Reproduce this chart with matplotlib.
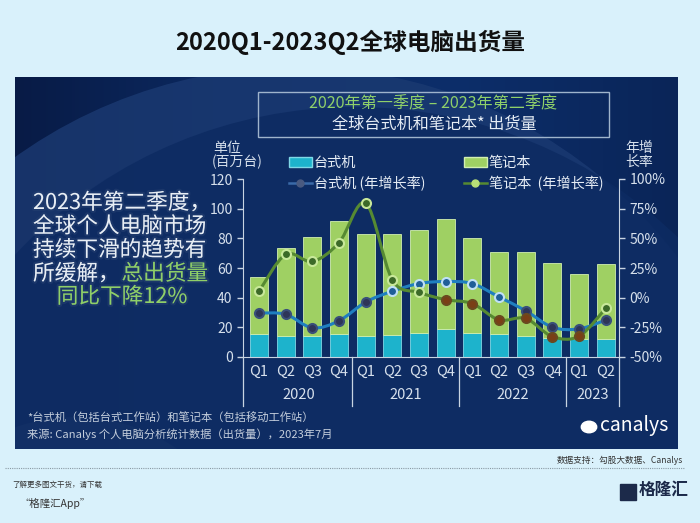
import numpy as np
import matplotlib
matplotlib.use('Agg')
import matplotlib.pyplot as plt
from matplotlib.patches import Patch, Circle, Rectangle, PathPatch
from matplotlib.lines import Line2D
from matplotlib.path import Path
from matplotlib.colors import LinearSegmentedColormap
import matplotlib.patheffects as pe

plt.rcParams['font.family'] = ['Noto Sans CJK SC', 'DejaVu Sans']

# data (millions of units / yoy growth %)
quarters = ['Q1', 'Q2', 'Q3', 'Q4'] * 3 + ['Q1', 'Q2']
years = ['2020', '2021', '2022', '2023']
total = [53.8, 73.5, 80.9, 91.7, 82.7, 83.1, 85.4, 92.9, 80.4, 70.7, 70.7, 63.5, 55.7, 62.8]
desktop = [15.3, 14.2, 14.2, 15.8, 14.2, 14.9, 16.5, 18.8, 16.5, 15.3, 14.2, 13.1, 11.9, 12.4]
notebook = [t - d for t, d in zip(total, desktop)]
desktop_yoy = [-13.0, -14.0, -25.4, -19.5, -3.7, 5.4, 11.9, 13.6, 11.9, 0.6, -11.0, -24.9, -26.3, -18.9]
notebook_yoy = [5.4, 36.4, 30.5, 46.3, 79.6, 15.0, 4.5, -1.7, -5.0, -18.7, -17.5, -32.8, -32.5, -9.0]

BG = '#d9f1fb'
fig = plt.figure(figsize=(7.0, 5.23), dpi=100, facecolor=BG)

def fx(x):
    return x / 700

def fy(y):
    return 1 - y / 523

# dark panel
px0, py0, px1, py1 = 15, 77, 678, 449
bg = fig.add_axes([fx(px0), fy(py1), fx(px1 - px0), fy(py0) - fy(py1)], zorder=0)
grad = np.linspace(0, 1, 256)[None, :]
cm = LinearSegmentedColormap.from_list('p', ['#081b46', '#0c2a62', '#0d2e6a', '#0a2558'])
bg.imshow(grad, cmap=cm, aspect='auto', extent=(0, px1 - px0, py1 - py0, 0))
bg.add_patch(Circle((280, 470), 480, color='#1b3a72', alpha=0.8, lw=0))
bg.add_patch(Circle((340, 495), 465, color='#0d2b62', alpha=0.9, lw=0))
bg.add_patch(Circle((60, 520), 180, color='#163468', alpha=0.5, lw=0))
bg.set_xlim(0, px1 - px0)
bg.set_ylim(py1 - py0, 0)
bg.axis('off')

# title
fig.text(0.5, fy(42), '2020Q1-2023Q2全球电脑出货量', ha='center', va='center',
         fontsize=17, fontweight='bold', color='#111111')

# subtitle box
fig.add_artist(Rectangle((fx(258), fy(137)), fx(609 - 258), fy(92) - fy(137),
                         fill=False, ec='#9fb4cc', lw=1.0, transform=fig.transFigure, zorder=3))
fig.text(fx(433), fy(104), '2020年第一季度 – 2023年第二季度', ha='center', va='center',
         fontsize=11.6, color='#8fd06a', zorder=4)
fig.text(fx(434), fy(124), '全球台式机和笔记本* 出货量', ha='center', va='center',
         fontsize=11.6, color='#e6edf5', zorder=4)

# left commentary
glow = [pe.withStroke(linewidth=3, foreground='#243f70', alpha=0.6)]
lines = ['2023年第二季度，', '全球个人电脑市场', '持续下滑的趋势有']
for i, s in enumerate(lines):
    fig.text(fx(33), fy(203 + 23.6 * i), s, ha='left', va='center', fontsize=15.6,
             color='#e8eef5', path_effects=glow, zorder=4)
fig.text(fx(33), fy(274), '所缓解，', ha='left', va='center', fontsize=15.6,
         color='#e8eef5', path_effects=glow, zorder=4)
fig.text(fx(208), fy(274), '总出货量', ha='right', va='center', fontsize=15.6,
         color='#8fcf68', path_effects=glow, zorder=4)
fig.text(fx(122), fy(297), '同比下降12%', ha='center', va='center', fontsize=15.6,
         color='#8fcf68', path_effects=glow, zorder=4)

# main chart
ax = fig.add_axes([fx(243), fy(357), fx(619 - 243), fy(179) - fy(357)], zorder=2)
ax.patch.set_alpha(0)
x = np.arange(len(total))
w = 0.68
ax.bar(x, desktop, w, color='#1db3cc', edgecolor='#7fd8e6', lw=0.6, zorder=2)
ax.bar(x, notebook, w, bottom=desktop, color='#9fd063', edgecolor='#d2efb0', lw=0.6, zorder=2)
ax.set_xlim(-0.6, 13.5)
ax.set_ylim(0, 120)
ax.set_yticks(range(0, 121, 20))
tc = '#d6e0ec'
ax.tick_params(axis='y', colors='#c8d4e2', labelcolor=tc, labelsize=10, length=4, width=1)
ax.set_xticks([])
for s in ['top', 'right']:
    ax.spines[s].set_visible(False)
ax.spines['left'].set_color('#c8d4e2')
ax.spines['bottom'].set_color('#c8d4e2')

# category labels and year separators
for i, q in enumerate(quarters):
    ax.text(i, -10, q, ha='center', va='center', fontsize=10.5, color=tc, clip_on=False)
year_mid = [1.5, 5.5, 9.5, 12.5]
for xm, yr in zip(year_mid, years):
    ax.text(xm, -25.5, yr, ha='center', va='center', fontsize=10.5, color=tc, clip_on=False)
for xs in [-0.6, 3.5, 7.5, 11.5, 13.5]:
    ax.plot([xs, xs], [0, -33], color='#c8d4e2', lw=0.9, clip_on=False, zorder=1)

# growth lines on right axis
ax2 = ax.twinx()
ax2.set_ylim(-50, 100)
ax2.set_yticks(range(-50, 101, 25))
ax2.set_yticklabels([f'{v}%' for v in range(-50, 101, 25)])
ax2.tick_params(axis='y', colors='#c8d4e2', labelcolor=tc, labelsize=10, length=4, width=1)
for s in ['top', 'left', 'bottom']:
    ax2.spines[s].set_visible(False)
ax2.spines['right'].set_color('#c8d4e2')


def smooth(xs, ys):
    n = len(xs)
    verts = [(xs[0], ys[0])]
    codes = [Path.MOVETO]
    for i in range(n - 1):
        p0 = (xs[max(i - 1, 0)], ys[max(i - 1, 0)])
        p1 = (xs[i], ys[i])
        p2 = (xs[i + 1], ys[i + 1])
        p3 = (xs[min(i + 2, n - 1)], ys[min(i + 2, n - 1)])
        c1 = (p1[0] + (p2[0] - p0[0]) / 6, p1[1] + (p2[1] - p0[1]) / 6)
        c2 = (p2[0] - (p3[0] - p1[0]) / 6, p2[1] - (p3[1] - p1[1]) / 6)
        verts += [c1, c2, p2]
        codes += [Path.CURVE4] * 3
    return Path(verts, codes)


d_line = '#1f7fc0'
n_line = '#568a32'
ax2.add_patch(PathPatch(smooth(x, desktop_yoy), fill=False, ec=d_line, lw=2.2, zorder=3))
ax2.add_patch(PathPatch(smooth(x, notebook_yoy), fill=False, ec=n_line, lw=2.2, zorder=3))
for i in x:
    v = desktop_yoy[i]
    ax2.plot(i, v, 'o', ms=6.5, mew=1.5, mec='#3a4f7a' if v < 0 else '#bfe0f5',
             mfc='#2e3558' if v < 0 else '#1f5f98', zorder=4)
for i in x:
    v = notebook_yoy[i]
    filled = v < 0 and i != len(x) - 1
    ax2.plot(i, v, 'o', ms=6.5, mew=1.5, mec='#6a4a20' if filled else '#c8e89a',
             mfc='#7a3f16' if filled else '#3c6a28', zorder=4)

# axis titles
fig.text(fx(213), fy(148), '单位', ha='left', va='center', fontsize=10, color=tc)
fig.text(fx(212), fy(162), '(百万台)', ha='left', va='center', fontsize=10, color=tc)
fig.text(fx(625), fy(148), '年增', ha='left', va='center', fontsize=10, color=tc)
fig.text(fx(625), fy(162), '长率', ha='left', va='center', fontsize=10, color=tc)

# legend, two columns placed separately
leg_kw = dict(loc='upper left', frameon=False, fontsize=10.2, labelcolor='#e6edf5',
              handlelength=1.6, handletextpad=0.15, labelspacing=0.42, borderpad=0)
fig.legend([Patch(fc='#1db3cc', ec='#7fd8e6'),
            Line2D([], [], color='#3a6aa8', lw=1.8, marker='o', ms=5, mfc='#4a5a80', mec='#4a5a80')],
           ['台式机', '台式机 (年增长率)'], bbox_to_anchor=(fx(282), fy(149)), **leg_kw)
fig.legend([Patch(fc='#9fd063', ec='#d2efb0'),
            Line2D([], [], color=n_line, lw=1.8, marker='o', ms=5, mfc='#b8e078', mec='#b8e078')],
           ['笔记本', '笔记本  (年增长率)'], bbox_to_anchor=(fx(457), fy(149)), **leg_kw)

# footnotes in panel
fig.text(fx(27), fy(418), '*台式机（包括台式工作站）和笔记本（包括移动工作站）', ha='left', va='center',
         fontsize=8.1, color='#c4cedc', zorder=4)
fig.text(fx(27), fy(434), '来源: Canalys 个人电脑分析统计数据（出货量），2023年7月', ha='left', va='center',
         fontsize=8.1, color='#c4cedc', zorder=4)

# canalys logo
fig.add_artist(Circle((fx(589), fy(427)), 0.011, transform=fig.transFigure, color='white', zorder=4))
fig.text(fx(600), fy(425), 'canalys', ha='left', va='center', fontsize=14, color='white', zorder=4)

# outside footer
fig.text(fx(683), fy(460), '数据支持：勾股大数据、Canalys', ha='right', va='center', fontsize=6.2, color='#333333')
fig.add_artist(Line2D([fx(5), fx(685)], [fy(468), fy(468)], transform=fig.transFigure,
                      color='#8a9aa4', lw=0.8, ls=(0, (1, 1))))
fig.text(fx(12), fy(485), '了解更多图文干货，请下载', ha='left', va='center', fontsize=5.4,
         style='italic', color='#333333')
fig.text(fx(20), fy(503), '“格隆汇App”', ha='left', va='center', fontsize=7.5,
         style='italic', color='#333333')
fig.add_artist(Rectangle((fx(620), fy(500)), fx(16), fy(484) - fy(500), transform=fig.transFigure,
                         color='#1c2a4a'))
fig.text(fx(639), fy(490), '格隆汇', ha='left', va='center', fontsize=12, fontweight='bold', color='#1c2a4a')

fig.savefig('out.png', dpi=100, facecolor=BG)
